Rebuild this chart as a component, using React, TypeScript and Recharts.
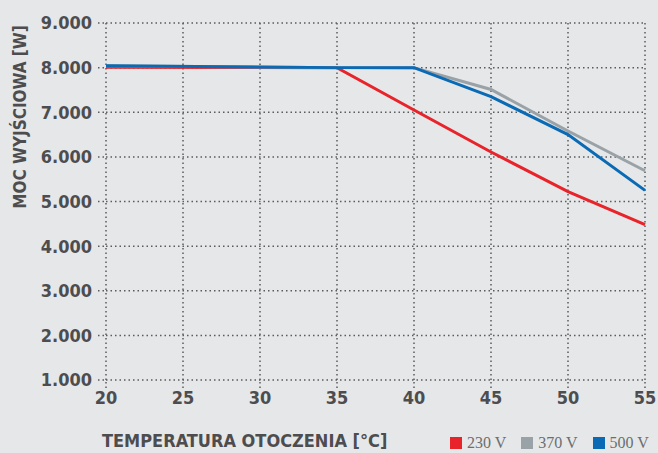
import { LineChart, Line, XAxis, YAxis, CartesianGrid } from 'recharts';

const temps = [20, 35, 40, 45, 50, 55];
const v230 = [8010, 8000, 7050, 6110, 5220, 4480];
const v370 = [8040, 8000, 8000, 7510, 6580, 5690];
const v500 = [8040, 8000, 8000, 7350, 6500, 5250];
const xTicks = [20, 25, 30, 35, 40, 45, 50, 55];
const yTicks = [1000, 2000, 3000, 4000, 5000, 6000, 7000, 8000, 9000];

const SERIES = [
  { key: 'v230', name: '230 V', color: '#e8232a' },
  { key: 'v370', name: '370 V', color: '#99a2a7' },
  { key: 'v500', name: '500 V', color: '#0a6ab4' },
];

const data = temps.map((t, i) => ({ t, v230: v230[i], v370: v370[i], v500: v500[i] }));

const FONT = '"DejaVu Sans Condensed", "Liberation Sans Narrow", sans-serif';
const INK = '#4d4d4f';
const DOT = { stroke: '#5a5b5d', strokeWidth: 1.5, strokeDasharray: '1.5 3' };

const fmtK = (v: number) => `${v / 1000}.000`;

export default function App() {
  return (
    <div style={{ position: 'absolute', left: 0, top: 0, width: 658, height: 453, background: '#e6e7e9', fontFamily: FONT }}>
      <LineChart width={658} height={453} data={data} margin={{ top: 23, right: 13, left: 0, bottom: 0 }}>
        <CartesianGrid {...DOT} />
        <XAxis
          dataKey="t"
          type="number"
          domain={[20, 55]}
          ticks={xTicks}
          axisLine={false}
          tickLine={DOT}
          tickSize={8}
          tickMargin={3}
          height={73}
          tick={{ fill: INK, fontSize: 18, fontWeight: 700, fontFamily: FONT }}
        />
        <YAxis
          type="number"
          domain={[1000, 9000]}
          ticks={yTicks}
          axisLine={false}
          tickLine={DOT}
          tickSize={8}
          tickMargin={6}
          width={106}
          tickFormatter={fmtK}
          tick={{ fill: INK, fontSize: 18, fontWeight: 700, fontFamily: FONT }}
        />
        {SERIES.map((s) => (
          <Line
            key={s.key}
            dataKey={s.key}
            name={s.name}
            stroke={s.color}
            strokeWidth={3}
            dot={false}
            type="linear"
            isAnimationActive={false}
          />
        ))}
      </LineChart>
      <div
        style={{
          position: 'absolute',
          left: 20,
          top: 117,
          transform: 'translate(-50%, -50%) rotate(-90deg)',
          whiteSpace: 'nowrap',
          fontSize: 17,
          fontWeight: 700,
          color: INK,
        }}
      >
        MOC WYJŚCIOWA [W]
      </div>
      <div
        style={{
          position: 'absolute',
          left: 102,
          top: 430,
          whiteSpace: 'nowrap',
          fontSize: 18,
          fontWeight: 700,
          color: INK,
        }}
      >
        TEMPERATURA OTOCZENIA [°C]
      </div>
      <div
        style={{
          position: 'absolute',
          left: 450,
          top: 434,
          display: 'flex',
          gap: 15,
          fontFamily: '"Liberation Serif", serif',
          fontSize: 16,
          color: '#6b6e70',
        }}
      >
        {SERIES.map((s) => (
          <div key={s.key} style={{ display: 'flex', alignItems: 'center', gap: 5 }}>
            <span style={{ display: 'inline-block', width: 12, height: 12, background: s.color }} />
            <span>{s.name}</span>
          </div>
        ))}
      </div>
    </div>
  );
}
